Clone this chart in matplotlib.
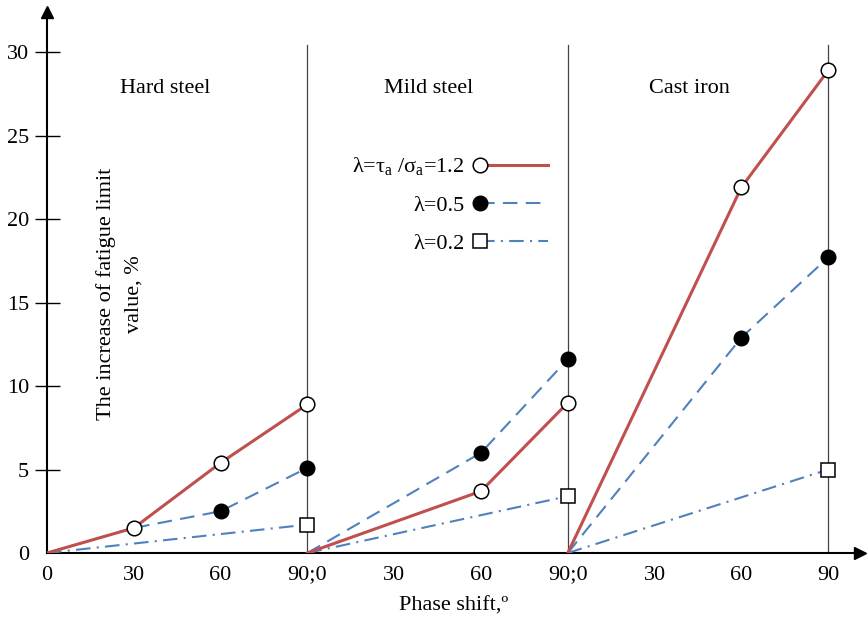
import numpy as np
import matplotlib
matplotlib.use("Agg")
from matplotlib import pyplot as plt
from matplotlib.legend_handler import HandlerLine2D

plt.rcParams["font.family"] = ["Liberation Serif", "DejaVu Serif"]
plt.rcParams["mathtext.fontset"] = "custom"
plt.rcParams["mathtext.rm"] = "Liberation Serif"
plt.rcParams["mathtext.it"] = "Liberation Serif:italic"

# dane (oś x: trzy odcinki po 90 stopni)
x_hard = [0, 30, 60, 90]
x_mild = [90, 150, 180]
x_cast = [180, 240, 270]

hard_12 = [0, 1.5, 5.4, 8.9]
hard_05 = [0, 1.5, 2.5, 5.1]
hard_02 = [0, 1.7]

mild_12 = [0, 3.7, 9.0]
mild_05 = [0, 6.0, 11.6]
mild_02 = [0, 3.4]

cast_12 = [0, 21.9, 28.9]
cast_05 = [0, 12.9, 17.7]
cast_02 = [0, 5.0]

materials = ["Hard steel", "Mild steel", "Cast iron"]
material_x = [41, 132, 222]

tick_pos = [0, 30, 60, 90, 120, 150, 180, 210, 240, 270]
tick_lab = ["0", "30", "60", "90;0", "30", "60", "90;0", "30", "60", "90"]
dividers = [90, 180, 270]

label_12 = "λ=τ$_\\mathrm{a}$ /σ$_\\mathrm{a}$=1.2"
label_05 = "λ=0.5"
label_02 = "λ=0.2"

red = "#c0504d"
blue = "#4f81bd"
fs = 16


class LeftMarker(HandlerLine2D):
    # marker na lewym końcu kreski w legendzie
    def create_artists(self, legend, orig_handle, xdescent, ydescent, width, height, fontsize, trans):
        arts = super().create_artists(legend, orig_handle, xdescent, ydescent, width, height, fontsize, trans)
        for a in arts:
            a.set_markevery([0])
        return arts


fig = plt.figure(figsize=(8.68, 6.21), dpi=100)
ax = fig.add_axes([47 / 868, 68 / 621, 813 / 868, 541 / 621])
ax.set_xlim(0, 281)
ax.set_ylim(0, 32.4)

for xd in dividers:
    ax.plot([xd, xd], [0, 30.4], color="#444444", lw=0.9, zorder=1)

circ_open = dict(marker="o", markersize=10.5, markerfacecolor="white", markeredgecolor="black", markeredgewidth=1.1)
circ_fill = dict(marker="o", markersize=10.5, markerfacecolor="black", markeredgecolor="black")
sq_open = dict(marker="s", markersize=9.5, markerfacecolor="white", markeredgecolor="black", markeredgewidth=1.1)

# lambda = 0.2
ax.plot([x_hard[0], x_hard[-1]], hard_02, color=blue, lw=1.5, ls=(0, (7, 3, 1, 3)), markevery=[1], zorder=3, **sq_open)
ax.plot([x_mild[0], x_mild[-1]], mild_02, color=blue, lw=1.5, ls=(0, (7, 3, 1, 3)), markevery=[1], zorder=3, **sq_open)
l02, = ax.plot([x_cast[0], x_cast[-1]], cast_02, color=blue, lw=1.5, ls=(0, (7, 3, 1, 3)), markevery=[1], zorder=3, **sq_open)

# lambda = 0.5
ax.plot(x_hard, hard_05, color=blue, lw=1.5, ls=(0, (7, 4)), markevery=[2, 3], zorder=4, **circ_fill)
ax.plot(x_mild, mild_05, color=blue, lw=1.5, ls=(0, (7, 4)), markevery=[1, 2], zorder=4, **circ_fill)
l05, = ax.plot(x_cast, cast_05, color=blue, lw=1.5, ls=(0, (7, 4)), markevery=[1, 2], zorder=4, **circ_fill)

# lambda = 1.2
ax.plot(x_hard, hard_12, color=red, lw=2.2, markevery=[1, 2, 3], zorder=5, **circ_open)
ax.plot(x_mild, mild_12, color=red, lw=2.2, markevery=[1, 2], zorder=5, **circ_open)
l12, = ax.plot(x_cast, cast_12, color=red, lw=2.2, markevery=[1, 2], zorder=5, **circ_open)

for name, xm in zip(materials, material_x):
    ax.text(xm, 27.8, name, ha="center", va="center", fontsize=fs)

ax.text(25.2, 15.5, "The increase of fatigue limit\nvalue, %", rotation=90,
        ha="center", va="center", multialignment="center", fontsize=fs, linespacing=1.6)

leg = ax.legend([l12, l05, l02], [label_12, label_05, label_02],
                handler_map={l12: LeftMarker(), l05: LeftMarker(), l02: LeftMarker()},
                markerfirst=False, frameon=False, fontsize=fs, handlelength=3.05,
                handletextpad=0.7, labelspacing=0.8, loc="upper right",
                bbox_to_anchor=(0.616, 0.735), borderpad=0, borderaxespad=0)
for t in leg.get_texts():
    t.set_ha("right")

# osie ze strzałkami
for s in ["top", "right"]:
    ax.spines[s].set_visible(False)
ax.spines["left"].set_linewidth(1.5)
ax.spines["bottom"].set_linewidth(1.5)
ax.plot(1, 0, ">k", markersize=9, transform=ax.get_yaxis_transform(), clip_on=False)
ax.plot(0, 1, "^k", markersize=9, transform=ax.get_xaxis_transform(), clip_on=False)

ax.set_yticks([0, 5, 10, 15, 20, 25, 30])
ax.tick_params(axis="y", direction="inout", length=18, width=1, labelsize=fs, pad=4)
ax.yaxis.get_major_ticks()[0].tick1line.set_visible(False)
ax.set_xticks(tick_pos)
ax.set_xticklabels(tick_lab)
ax.tick_params(axis="x", length=0, labelsize=fs, pad=9)
ax.set_xlabel("Phase shift,º", fontsize=fs, labelpad=9)

fig.savefig("out.png", dpi=100)
